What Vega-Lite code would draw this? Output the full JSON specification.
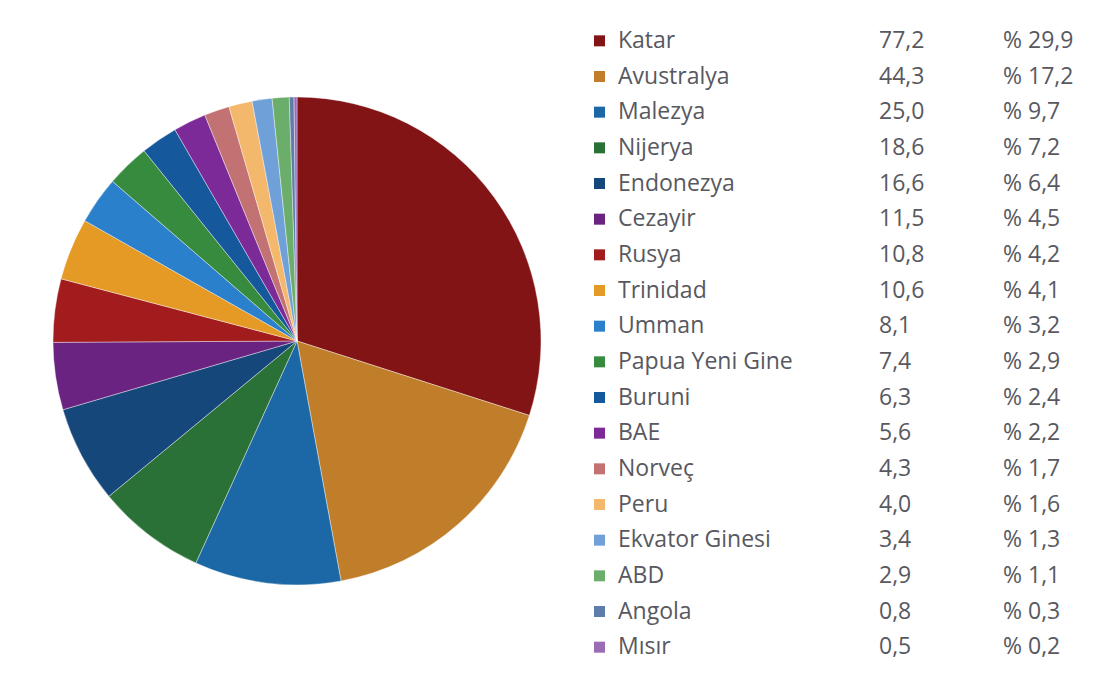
{
  "$schema": "https://vega.github.io/schema/vega-lite/v6.json",
  "background": "white",
  "padding": {"left": 0, "top": 23, "right": 0, "bottom": 0},
  "spacing": 0,
  "config": {
    "view": {"stroke": null},
    "locale": {"number": {"decimal": ",", "thousands": ".", "grouping": [3], "currency": ["% ", ""]}},
    "text": {"font": "Open Sans", "fontSize": 23, "color": "#585860"}
  },
  "data": {"values": [
    {"ulke": "Katar", "deger": 77.2, "pay": 29.9},
    {"ulke": "Avustralya", "deger": 44.3, "pay": 17.2},
    {"ulke": "Malezya", "deger": 25.0, "pay": 9.7},
    {"ulke": "Nijerya", "deger": 18.6, "pay": 7.2},
    {"ulke": "Endonezya", "deger": 16.6, "pay": 6.4},
    {"ulke": "Cezayir", "deger": 11.5, "pay": 4.5},
    {"ulke": "Rusya", "deger": 10.8, "pay": 4.2},
    {"ulke": "Trinidad", "deger": 10.6, "pay": 4.1},
    {"ulke": "Umman", "deger": 8.1, "pay": 3.2},
    {"ulke": "Papua Yeni Gine", "deger": 7.4, "pay": 2.9},
    {"ulke": "Buruni", "deger": 6.3, "pay": 2.4},
    {"ulke": "BAE", "deger": 5.6, "pay": 2.2},
    {"ulke": "Norveç", "deger": 4.3, "pay": 1.7},
    {"ulke": "Peru", "deger": 4.0, "pay": 1.6},
    {"ulke": "Ekvator Ginesi", "deger": 3.4, "pay": 1.3},
    {"ulke": "ABD", "deger": 2.9, "pay": 1.1},
    {"ulke": "Angola", "deger": 0.8, "pay": 0.3},
    {"ulke": "Mısır", "deger": 0.5, "pay": 0.2}
  ]},
  "hconcat": [
    {
      "width": 594,
      "height": 636,
      "mark": {"type": "arc", "outerRadius": 244, "stroke": "white", "strokeWidth": 0.4},
      "encoding": {
        "theta": {"field": "deger", "type": "quantitative", "stack": true},
        "order": {"field": "deger", "type": "quantitative", "sort": "descending"},
        "color": {
          "field": "ulke", "type": "nominal", "legend": null,
          "scale": {
            "domain": ["Katar","Avustralya","Malezya","Nijerya","Endonezya","Cezayir","Rusya","Trinidad","Umman","Papua Yeni Gine","Buruni","BAE","Norveç","Peru","Ekvator Ginesi","ABD","Angola","Mısır"],
            "range": ["#821416","#C07D2A","#1C68A6","#2A7138","#16477B","#6A2381","#A21B1D","#E59A25","#2A80CB","#378B3E","#15589C","#7C2A98","#C27272","#F4B86C","#6FA0D8","#6BAE6B","#5F7DAA","#9A6CB4"]
          }
        }
      }
    },
    {
      "width": 7,
      "height": 642,
      "encoding": {
        "y": {"field": "ulke", "type": "nominal", "sort": null, "axis": null,
              "scale": {"paddingInner": 0, "paddingOuter": 0}}
      },
      "layer": [
        {
          "mark": {"type": "point", "shape": "square", "filled": true, "size": 121, "opacity": 1},
          "encoding": {
            "color": {
              "field": "ulke", "type": "nominal", "legend": null,
              "scale": {
                "domain": ["Katar","Avustralya","Malezya","Nijerya","Endonezya","Cezayir","Rusya","Trinidad","Umman","Papua Yeni Gine","Buruni","BAE","Norveç","Peru","Ekvator Ginesi","ABD","Angola","Mısır"],
                "range": ["#821416","#C07D2A","#1C68A6","#2A7138","#16477B","#6A2381","#A21B1D","#E59A25","#2A80CB","#378B3E","#15589C","#7C2A98","#C27272","#F4B86C","#6FA0D8","#6BAE6B","#5F7DAA","#9A6CB4"]
              }
            }
          }
        },
        {
          "mark": {"type": "text", "align": "left", "baseline": "middle", "dx": 18.5},
          "encoding": {"text": {"field": "ulke", "type": "nominal"}}
        },
        {
          "mark": {"type": "text", "align": "left", "baseline": "middle", "dx": 279.5},
          "encoding": {"text": {"field": "deger", "type": "quantitative", "format": ".1f"}}
        },
        {
          "mark": {"type": "text", "align": "left", "baseline": "middle", "dx": 403.5},
          "encoding": {"text": {"field": "pay", "type": "quantitative", "format": "$.1f"}}
        }
      ]
    }
  ]
}
